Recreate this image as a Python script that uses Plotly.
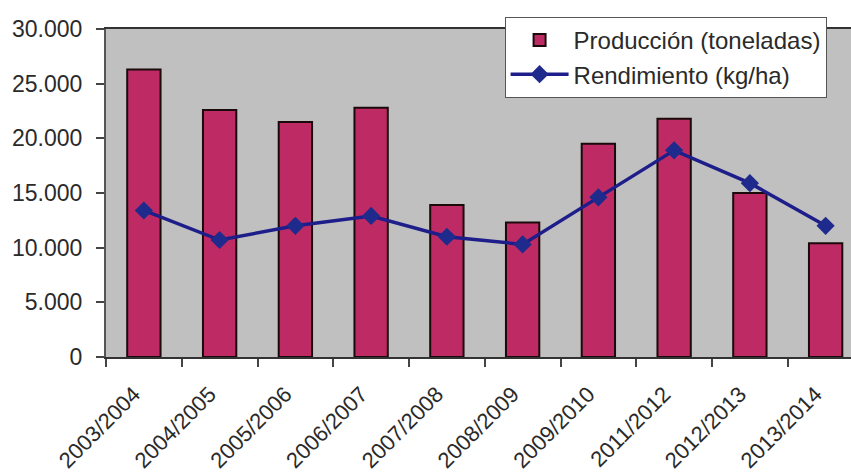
import plotly.graph_objects as go

# Campaigns (agricultural seasons)
campanias = ["2003/2004", "2004/2005", "2005/2006", "2006/2007", "2007/2008",
             "2008/2009", "2009/2010", "2011/2012", "2012/2013", "2013/2014"]

# Production in tonnes
produccion = [26300, 22600, 21500, 22800, 13900, 12300, 19500, 21800, 15000, 10400]

# Yield in kg/ha
rendimiento = [13400, 10700, 12000, 12900, 11000, 10300, 14600, 18900, 15900, 12000]

y_ticks = [0, 5000, 10000, 15000, 20000, 25000, 30000]

FONT = "Liberation Sans, Arial, sans-serif"
TEXT = "#2a2a2a"

fig = go.Figure()

fig.add_trace(go.Bar(
    x=campanias,
    y=produccion,
    name="Producción (toneladas)",
    width=0.44,
    marker=dict(color="#BE2B64", line=dict(color="#1a0a0a", width=2)),
))

fig.add_trace(go.Scatter(
    x=campanias,
    y=rendimiento,
    name="Rendimiento (kg/ha)",
    mode="lines+markers",
    line=dict(color="#1E1E8A", width=3.5),
    marker=dict(symbol="diamond", size=14, color="#1E2A8C"),
))

fig.update_layout(
    width=851,
    height=474,
    margin=dict(l=106, r=0, t=29, b=117),
    paper_bgcolor="white",
    plot_bgcolor="#C0C0C0",
    separators=",.",
    font=dict(family=FONT, size=23, color=TEXT),
    showlegend=True,
    legend=dict(
        x=0.535, y=1.037, xanchor="left", yanchor="top",
        bgcolor="white",
        bordercolor="#555555",
        borderwidth=1,
        font=dict(family=FONT, size=24, color=TEXT),
        itemwidth=58,
        tracegroupgap=0,
    ),
    bargap=0.5,
)

fig.update_xaxes(
    type="category",
    range=[-0.5, 9.335],
    tickson="boundaries",
    ticks="outside",
    ticklen=8,
    tickwidth=1.5,
    tickcolor="#444444",
    tickangle=-45,
    ticklabelstandoff=14,
    ticklabelshift=-10,
    showline=True,
    linecolor="#333333",
    linewidth=1.5,
    mirror=True,
    showgrid=False,
    tickfont=dict(family=FONT, size=22, color=TEXT),
)

fig.update_yaxes(
    range=[0, 30000],
    tickvals=y_ticks,
    tickformat=",d",
    ticks="outside",
    ticklen=8,
    tickwidth=1.5,
    tickcolor="#444444",
    showline=True,
    linecolor="#555555",
    linewidth=2,
    showgrid=False,
    zeroline=False,
    ticklabelstandoff=9,
    tickfont=dict(family=FONT, size=23, color=TEXT),
)

fig.write_html("out.html")
